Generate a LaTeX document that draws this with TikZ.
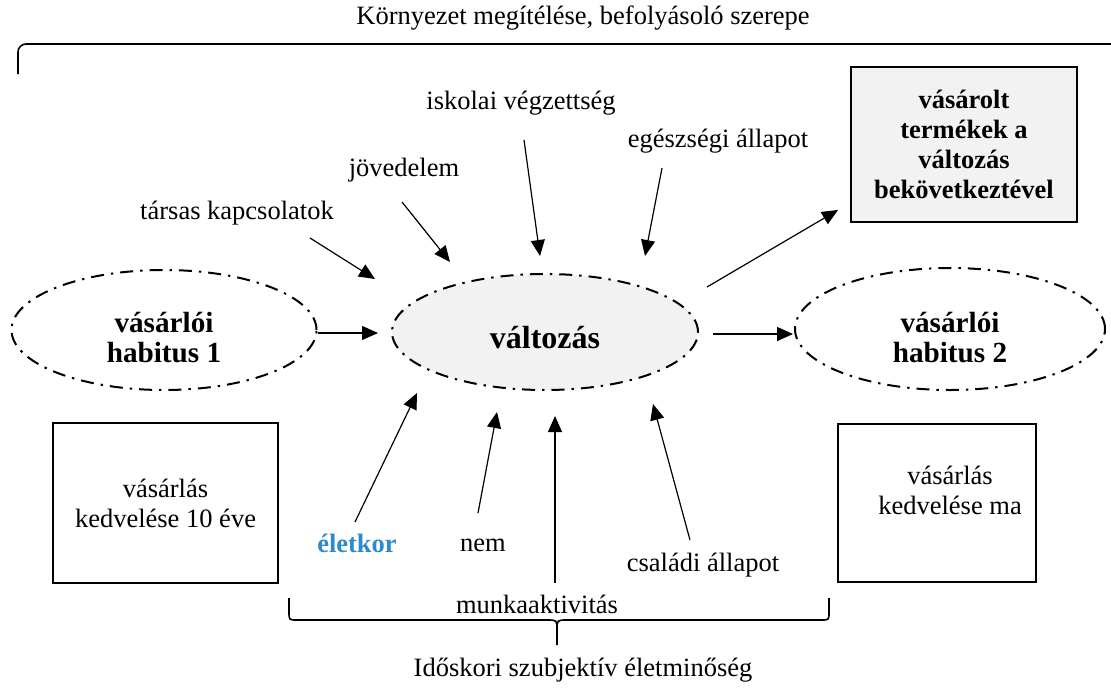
\documentclass[tikz,border=0pt]{standalone}
\usepackage{fontspec}
\setmainfont{Liberation Serif}
\usetikzlibrary{shapes.geometric,arrows.meta}
\definecolor{boxgray}{HTML}{F2F2F2}
\definecolor{agecolor}{HTML}{2E8BCB}
\begin{document}
\begin{tikzpicture}[x=0.5pt,y=-0.5pt,
  every node/.style={font=\fontsize{13.25}{15}\selectfont, align=center, inner sep=0pt},
  ell/.style={ellipse, draw, line width=1pt, dash pattern=on 6.5pt off 3.5pt on 1.2pt off 3.5pt},
  bx/.style={draw, line width=1.2pt},
  arr/.style={-{Triangle[length=8pt,width=7pt]}, line width=0.6pt},
  brace/.style={line width=0.8pt},
  bold/.style={font=\fontsize{13.25}{15}\selectfont\bfseries},
  ebold/.style={font=\fontsize{14.6}{15}\selectfont\bfseries},
  ]
\useasboundingbox (0,0) rectangle (1111,696);

% top title and bracket
\node (top) at (583,18) {Környezet megítélése, befolyásoló szerepe};
\draw[brace, rounded corners=4pt] (18,74) |- (1111,44);

% ellipses
\node[ell, minimum width=152.5pt, minimum height=60pt] (h1) at (164,330) {};
\node[ebold] (h1t) at (164,338) {vásárlói\\habitus 1};
\node[ell, fill=boxgray, minimum width=153pt, minimum height=58pt] (ch) at (545,332) {};
\node[font=\fontsize{16}{18}\selectfont\bfseries] (cht) at (545,338) {változás};
\node[ell, minimum width=155pt, minimum height=61pt] (h2) at (950,329) {};
\node[ebold] (h2t) at (950,338) {vásárlói\\habitus 2};

% boxes
\node[bx, fill=boxgray, minimum width=113pt, minimum height=77.5pt, bold] (res) at (964,144.5) {vásárolt\\termékek a\\változás\\bekövetkeztével};
\node[bx, minimum width=112.5pt, minimum height=80pt] (bl) at (165.5,503) {vásárlás\\kedvelése 10 éve};
\node[bx, minimum width=99pt, minimum height=79pt] (br) at (937,503) {};
\node (brt) at (950,490) {vásárlás\\kedvelése ma};

% factor labels
\node (tarsas) at (237,213) {társas kapcsolatok};
\node (jov) at (404,170) {jövedelem};
\node (isk) at (521,103) {iskolai végzettség};
\node (egesz) at (718,141) {egészségi állapot};
\node[font=\fontsize{13.25}{15}\selectfont\bfseries, text=agecolor] (eletkor) at (357,543) {életkor};
\node (nem) at (483,545) {nem};
\node (munka) at (537,604) {munkaaktivitás};
\node (csal) at (703,565) {családi állapot};
\node (idos) at (583,670) {Időskori szubjektív életminőség};

% arrow endpoints
\coordinate (a1s) at (318,333); \coordinate (a1e) at (378,333);
\coordinate (a2s) at (713,334); \coordinate (a2e) at (793,334);
\coordinate (a3s) at (707,287); \coordinate (a3e) at (838,210);
\coordinate (tas) at (310,238); \coordinate (tae) at (375,279);
\coordinate (jos) at (402,202); \coordinate (joe) at (450,262);
\coordinate (iss) at (524,140); \coordinate (ise) at (540,256);
\coordinate (egs) at (662,168); \coordinate (ege) at (645,256);
\coordinate (els) at (355,522); \coordinate (ele) at (417,393);
\coordinate (nes) at (478,513); \coordinate (nee) at (497,412);
\coordinate (mus) at (555,583); \coordinate (mue) at (555,416);
\coordinate (css) at (690,540); \coordinate (cse) at (653,404);

\draw[arr] (a1s) -- (a1e);
\draw[arr] (a2s) -- (a2e);
\draw[arr] (a3s) -- (a3e);
\draw[arr] (tas) -- (tae);
\draw[arr] (jos) -- (joe);
\draw[arr] (iss) -- (ise);
\draw[arr] (egs) -- (ege);
\draw[arr] (els) -- (ele);
\draw[arr] (nes) -- (nee);
\draw[arr] (mus) -- (mue);
\draw[arr] (css) -- (cse);

% bottom brace
\draw[brace] (289,598) -- (289,612) .. controls (289,620) .. (297,620) -- (547,620) .. controls (557,620) .. (557,630) -- (557,645);
\draw[brace] (829,598) -- (829,612) .. controls (829,620) .. (821,620) -- (567,620) .. controls (557,620) .. (557,630);
\end{tikzpicture}
\end{document}
